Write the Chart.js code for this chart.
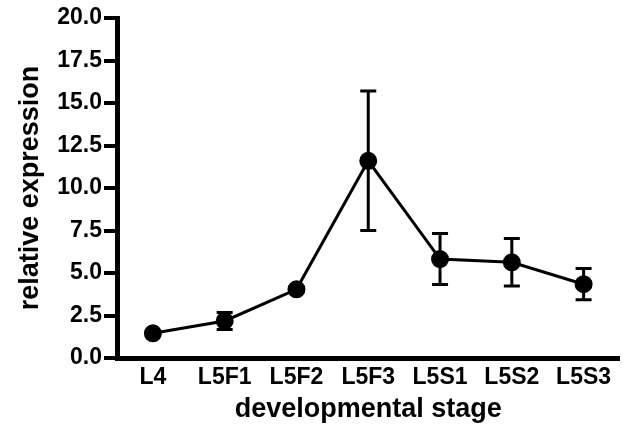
<!DOCTYPE html>
<html>
<head>
<meta charset="utf-8">
<script src="https://cdn.jsdelivr.net/npm/chart.js@4/dist/chart.umd.min.js"></script>
<style>
  body { margin: 0; background: #fff; }
</style>
</head>
<body>
<canvas id="grafico" width="630" height="438"></canvas>
<script>
// datos
const etapas = ["L4", "L5F1", "L5F2", "L5F3", "L5S1", "L5S2", "L5S3"];
const medias = [1.45, 2.18, 4.04, 11.6, 5.82, 5.63, 4.34];
const errores = [0.1, 0.5, 0.15, 4.1, 1.5, 1.4, 0.92];
const ticksY = [0, 2.5, 5, 7.5, 10, 12.5, 15, 17.5, 20];

// barras de error con las escalas del grafico
const barrasError = {
    id: "barrasError",
    afterDatasetsDraw(chart) {
        const ctx = chart.ctx;
        const x = chart.scales.x;
        const y = chart.scales.y;
        ctx.save();
        ctx.strokeStyle = "#000";
        ctx.lineWidth = 3;
        medias.forEach((m, i) => {
            let px = x.getPixelForValue(i);
            let top = y.getPixelForValue(m + errores[i]);
            let bot = y.getPixelForValue(m - errores[i]);
            ctx.beginPath();
            ctx.moveTo(px, top);
            ctx.lineTo(px, bot);
            ctx.moveTo(px - 8, top);
            ctx.lineTo(px + 8, top);
            ctx.moveTo(px - 8, bot);
            ctx.lineTo(px + 8, bot);
            ctx.stroke();
        });
        ctx.restore();
    }
};

const fuente = "'Liberation Sans', Arial, sans-serif";

new Chart(document.getElementById("grafico"), {
    type: "line",
    data: {
        labels: etapas,
        datasets: [{
            data: medias,
            borderColor: "#000",
            backgroundColor: "#000",
            borderWidth: 3,
            pointRadius: 7.5,
            pointHoverRadius: 7.5,
            tension: 0
        }]
    },
    options: {
        responsive: false,
        animation: false,
        layout: { padding: { top: 18, right: 7, left: 0, bottom: 0 } },
        plugins: {
            legend: { display: false },
            tooltip: { enabled: false }
        },
        scales: {
            x: {
                offset: true,
                grid: { display: false, drawTicks: false },
                border: { display: true, color: "#000", width: 5 },
                ticks: {
                    color: "#000",
                    padding: 6,
                    font: { family: fuente, size: 23, weight: "bold" }
                },
                title: {
                    display: true,
                    text: "developmental stage",
                    color: "#000",
                    padding: { top: 0, bottom: 12 },
                    font: { family: fuente, size: 27, weight: "bold" }
                },
                afterFit(scale) { scale.height = 80; }
            },
            y: {
                min: 0,
                max: 20,
                afterBuildTicks(scale) {
                    scale.ticks = ticksY.map(v => ({ value: v }));
                },
                grid: {
                    drawOnChartArea: false,
                    drawTicks: true,
                    tickLength: 13,
                    lineWidth: 4,
                    color: "#000"
                },
                border: { display: true, color: "#000", width: 5 },
                ticks: {
                    color: "#000",
                    padding: 2,
                    font: { family: fuente, size: 23, weight: "bold" },
                    callback: v => Number(v).toFixed(1)
                },
                title: {
                    display: true,
                    text: "relative expression",
                    color: "#000",
                    padding: { top: 14, bottom: 0 },
                    font: { family: fuente, size: 27, weight: "bold" }
                },
                afterFit(scale) { scale.width = 117; }
            }
        }
    },
    plugins: [barrasError]
});
</script>
</body>
</html>
